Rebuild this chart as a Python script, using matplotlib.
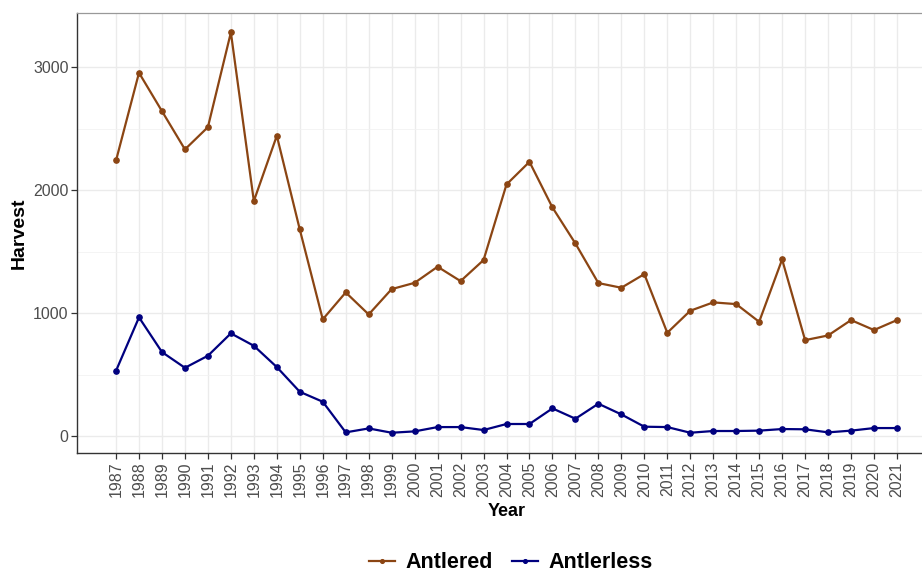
import matplotlib.pyplot as plt
from matplotlib.ticker import MultipleLocator

plt.rcParams['font.family'] = ['Liberation Sans', 'DejaVu Sans']

years = list(range(1987, 2022))

antlered = [2241, 2954, 2642, 2331, 2512, 3282, 1911, 2442, 1680, 949,
            1168, 989, 1195, 1246, 1377, 1260, 1431, 2046, 2230, 1859,
            1566, 1244, 1206, 1317, 840, 1019, 1087, 1073, 929, 1436,
            780, 818, 943, 862, 943]

antlerless = [531, 965, 683, 555, 653, 835, 734, 561, 360, 279,
              30, 62, 27, 38, 73, 73, 49, 98, 98, 225,
              141, 263, 176, 76, 73, 27, 41, 41, 44, 57,
              55, 30, 44, 65, 65]

series_names = ['Antlered', 'Antlerless']
series_colors = ['#8B4513', '#00007F']

fig = plt.figure(figsize=(9.22, 5.72), dpi=100)
# panel runs past the right edge like the original (cropped) image
ax = fig.add_axes([0.0835, 0.208, 0.9317, 0.769])

for vals, name, col in zip([antlered, antlerless], series_names, series_colors):
    ax.plot(years, vals, color=col, lw=1.6, marker='o', ms=3.8, label=name)

ax.set_xlim(1985.3, 2022.7)
ax.set_ylim(-138, 3439)
ax.set_xticks(years)
ax.set_xticklabels([str(y) for y in years], rotation=90)
ax.yaxis.set_major_locator(MultipleLocator(1000))
ax.yaxis.set_minor_locator(MultipleLocator(500))

ax.grid(True, which='major', color='#EBEBEB', lw=1.0)
ax.grid(True, which='minor', axis='y', color='#F2F2F2', lw=0.6)
ax.set_axisbelow(True)

ax.tick_params(axis='both', which='major', labelsize=11.5, labelcolor='#4D4D4D',
               color='#333333', length=4, width=0.9, pad=2)
ax.tick_params(axis='y', which='minor', length=0)

for s in ['left', 'bottom']:
    ax.spines[s].set_color('#333333')
    ax.spines[s].set_linewidth(1.0)
ax.spines['top'].set_color('#999999')
ax.spines['top'].set_linewidth(0.9)
ax.spines['right'].set_visible(False)

ax.set_xlabel('Year', fontsize=13, fontweight='bold', labelpad=4)
ax.set_ylabel('Harvest', fontsize=14, fontweight='bold', labelpad=4)

fig.legend(loc='center', bbox_to_anchor=(0.554, 0.0165), ncol=2, frameon=False,
           prop={'size': 15.5, 'weight': 'bold'}, handlelength=1.2,
           columnspacing=0.9, handletextpad=0.5, markerscale=0.7)

fig.savefig('out.png', dpi=100)
